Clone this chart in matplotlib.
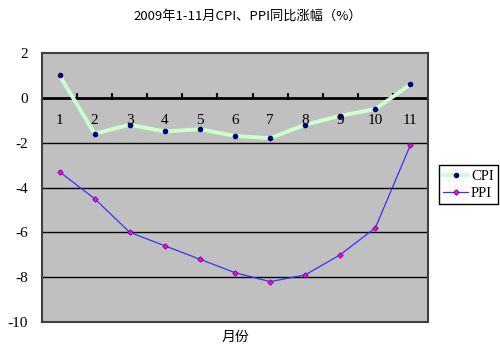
import matplotlib
matplotlib.use("Agg")
import matplotlib.pyplot as plt
import numpy as np

plt.rcParams['font.family'] = ['Noto Sans CJK SC', 'DejaVu Sans']
digits = ['Liberation Serif', 'Noto Sans CJK SC']

months = ["1", "2", "3", "4", "5", "6", "7", "8", "9", "10", "11"]
cpi = [1.0, -1.6, -1.2, -1.5, -1.4, -1.7, -1.8, -1.2, -0.8, -0.5, 0.6]
ppi = [-3.3, -4.5, -6.0, -6.6, -7.2, -7.8, -8.2, -7.9, -7.0, -5.8, -2.1]
yticks = [2, 0, -2, -4, -6, -8, -10]

fig = plt.figure(figsize=(5.0, 3.56), dpi=100)
ax = fig.add_axes([0.084, 0.0955, 0.772, 0.7556])
ax.set_facecolor("#c0c0c0")

x = np.arange(1, len(months) + 1)

# grid lines
for v in yticks[2:-1]:
    ax.axhline(v, color="black", lw=1.0, zorder=1)
ax.axhline(0, color="black", lw=2.0, zorder=2)
# category tick marks on the zero line
ax.vlines(np.arange(1.5, len(months)), 0, 0.2, color="black", lw=1.5, zorder=2)

ax.plot(x, cpi, color="#ccffcc", lw=2.8, marker="o", markersize=3,
        markerfacecolor="#000080", markeredgecolor="#000080", label="CPI", zorder=3)
ax.plot(x, ppi, color="#3333ff", lw=0.9, marker="D", markersize=2.8,
        markerfacecolor="#ff00ff", markeredgecolor="#800080", markeredgewidth=0.6,
        label="PPI", zorder=3)

for xi, m in zip(x, months):
    ax.text(xi, -1.0, m, ha="center", va="center", fontsize=11, family=digits, zorder=4)

ax.set_xlim(0.5, len(months) + 0.5)
ax.set_ylim(-10, 2)
ax.set_xticks([])
ax.set_yticks(yticks)
ax.set_yticklabels([str(v) for v in yticks], fontsize=11, family=digits)
ax.tick_params(axis="y", length=0, pad=10)
for s in ax.spines.values():
    s.set_color("#404040")
    s.set_linewidth(1.5)

ax.set_xlabel("月份", fontsize=10, labelpad=6)
fig.text(0.496, 0.955, "2009年1-11月CPI、PPI同比涨幅（%）", ha="center", va="center", fontsize=9.5)

leg = fig.legend(loc="upper left", bbox_to_anchor=(0.878, 0.536),
                 prop={'family': digits, 'size': 10.5},
                 frameon=True, fancybox=False, edgecolor="black", framealpha=1,
                 handlelength=1.7, handletextpad=0.2, borderpad=0.3,
                 labelspacing=0.25, borderaxespad=0)
leg.get_frame().set_linewidth(1.0)

fig.savefig("out.png", dpi=100)
